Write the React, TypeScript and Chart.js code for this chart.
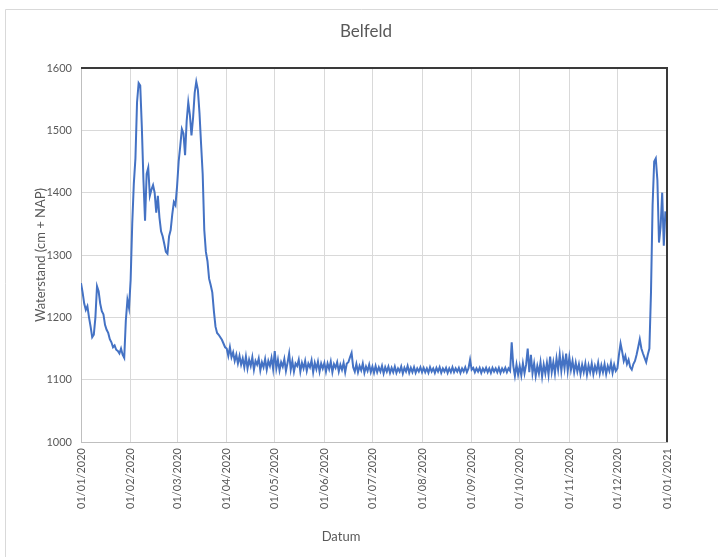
import React, { useEffect, useRef } from "react";
import { Chart, registerables } from "chart.js";

Chart.register(...registerables);

// Daily water level (cm + NAP), Belfeld 2020, one array per month
const JAN = [1255,1240,1222,1212,1218,1200,1185,1168,1172,1200,1250,1242,1222,1210,1205,1188,1180,1175,1165,1160,1152,1155,1148,1146,1142,1150,1140,1135,1195,1228,1215];
const FEB = [1260,1350,1415,1455,1545,1576,1572,1505,1420,1355,1430,1440,1395,1405,1412,1400,1368,1395,1360,1338,1330,1318,1305,1302,1330,1340,1365,1385,1380];
const MAR = [1410,1450,1475,1502,1495,1460,1515,1545,1525,1492,1520,1560,1578,1565,1528,1478,1430,1340,1305,1290,1262,1252,1240,1210,1185,1175,1172,1168,1164,1158,1152];
const APR = [1150,1138,1152,1136,1144,1130,1140,1126,1138,1124,1134,1120,1137,1118,1132,1122,1136,1116,1130,1124,1134,1115,1128,1120,1133,1116,1130,1122,1135,1117];
const MAY = [1146,1118,1132,1115,1128,1121,1133,1114,1127,1142,1116,1130,1113,1126,1122,1132,1113,1127,1118,1130,1114,1126,1120,1131,1112,1127,1117,1129,1113,1126,1118];
const JUN = [1127,1113,1126,1117,1129,1112,1125,1119,1128,1113,1124,1116,1127,1112,1126,1128,1136,1143,1120,1113,1125,1112,1122,1115,1126,1111,1121,1114,1124,1112];
const JUL = [1121,1111,1122,1112,1120,1113,1122,1110,1120,1113,1121,1111,1119,1112,1121,1111,1118,1113,1121,1110,1119,1113,1122,1111,1119,1112,1120,1111,1118,1113,1120];
const AUG = [1112,1119,1112,1118,1111,1120,1113,1118,1111,1119,1113,1120,1111,1118,1113,1119,1111,1118,1112,1120,1112,1118,1113,1119,1111,1118,1113,1120,1112,1118,1132];
const SEP = [1116,1119,1112,1118,1113,1119,1111,1118,1113,1119,1112,1118,1111,1119,1113,1118,1112,1119,1111,1118,1113,1119,1112,1118,1114,1160,1122,1106,1124,1108];
const OCT = [1122,1107,1126,1110,1124,1150,1112,1140,1110,1126,1106,1122,1110,1128,1105,1124,1110,1127,1108,1137,1112,1128,1110,1134,1116,1140,1114,1136,1118,1142,1114];
const NOV = [1136,1116,1130,1112,1127,1113,1125,1109,1124,1112,1126,1108,1123,1112,1126,1109,1122,1113,1127,1110,1123,1112,1125,1109,1122,1114,1127,1111,1124,1114];
const DEC = [1118,1140,1158,1145,1130,1138,1125,1132,1120,1116,1125,1130,1140,1152,1165,1150,1142,1135,1128,1140,1150,1240,1380,1450,1455,1420,1320,1345,1400,1315,1370];

const MONTHS = [JAN, FEB, MAR, APR, MAY, JUN, JUL, AUG, SEP, OCT, NOV, DEC];

const TICK_LABELS = [
  "01/01/2020", "01/02/2020", "01/03/2020", "01/04/2020", "01/05/2020", "01/06/2020",
  "01/07/2020", "01/08/2020", "01/09/2020", "01/10/2020", "01/11/2020", "01/12/2020", "01/01/2021",
];

const Y_TICKS = [1000, 1100, 1200, 1300, 1400, 1500, 1600];

const TITLE = "Belfeld";
const X_TITLE = "Datum";
const Y_TITLE = "Waterstand (cm + NAP)";

const FONT = "Lato, 'Open Sans', sans-serif";
const TEXT = "#595959";

export default function App() {
  const ref = useRef<HTMLCanvasElement | null>(null);

  useEffect(() => {
    if (!ref.current) return;
    const values: number[] = ([] as number[]).concat(...MONTHS);
    const points = values.map((v, i) => ({ x: i, y: v }));
    const monthStarts: number[] = [0];
    MONTHS.forEach((m) => monthStarts.push(monthStarts[monthStarts.length - 1] + m.length));

    const framePlugin = {
      id: "frames",
      beforeDraw(chart: any) {
        const ctx = chart.ctx;
        ctx.save();
        ctx.fillStyle = "#ffffff";
        ctx.fillRect(0, 0, chart.width, chart.height);
        ctx.strokeStyle = "#d9d9d9";
        ctx.lineWidth = 1;
        ctx.beginPath();
        ctx.moveTo(5.5, chart.height);
        ctx.lineTo(5.5, 9.5);
        ctx.lineTo(chart.width, 9.5);
        ctx.stroke();
        ctx.restore();
      },
      afterDraw(chart: any) {
        const { left, right, top, bottom } = chart.chartArea;
        const ctx = chart.ctx;
        ctx.save();
        ctx.strokeStyle = "#3a3a3a";
        ctx.lineWidth = 2;
        ctx.beginPath();
        ctx.moveTo(left, top);
        ctx.lineTo(right, top);
        ctx.lineTo(right, bottom);
        ctx.stroke();
        // x-axis title, placed as in the original (left of plot centre)
        ctx.fillStyle = TEXT;
        ctx.font = `13px ${FONT}`;
        ctx.textAlign = "center";
        ctx.textBaseline = "middle";
        ctx.fillText(X_TITLE, 341, 537);
        ctx.restore();
      },
    };

    const chart = new Chart(ref.current, {
      type: "line",
      data: {
        datasets: [
          {
            data: points,
            borderColor: "#4472C4",
            borderWidth: 2,
            pointRadius: 0,
            tension: 0,
            fill: false,
          },
        ],
      },
      options: {
        responsive: false,
        animation: false,
        layout: { padding: { left: 14, right: 0, top: 0, bottom: 0 } },
        plugins: {
          legend: { display: false },
          tooltip: { enabled: false },
          title: {
            display: true,
            text: TITLE,
            color: TEXT,
            font: { family: FONT, size: 17, weight: "normal" },
            padding: { top: 21.8, bottom: 25.8 },
          },
        },
        scales: {
          x: {
            type: "linear",
            min: 0,
            max: monthStarts[monthStarts.length - 1],
            afterBuildTicks: (scale: any) => {
              scale.ticks = monthStarts.map((v) => ({ value: v }));
            },
            afterFit: (scale: any) => {
              scale.height = 115;
            },
            grid: { color: "#d9d9d9", lineWidth: 1, drawTicks: false },
            border: { color: "#bfbfbf", width: 1 },
            ticks: {
              autoSkip: false,
              minRotation: 90,
              maxRotation: 90,
              padding: 6,
              color: TEXT,
              font: { family: FONT, size: 11 },
              callback: (_v: any, i: number) => TICK_LABELS[i],
            },
            title: { display: false },
          },
          y: {
            type: "linear",
            min: Y_TICKS[0],
            max: Y_TICKS[Y_TICKS.length - 1],
            afterBuildTicks: (scale: any) => {
              scale.ticks = Y_TICKS.map((v) => ({ value: v }));
            },
            afterFit: (scale: any) => {
              scale.width = 67;
            },
            grid: { color: "#d9d9d9", lineWidth: 1, drawTicks: false },
            border: { color: "#bfbfbf", width: 1 },
            ticks: {
              padding: 9,
              color: TEXT,
              font: { family: FONT, size: 11 },
              callback: (v: any) => String(v),
            },
            title: {
              display: true,
              text: Y_TITLE,
              color: TEXT,
              font: { family: FONT, size: 13 },
              padding: { top: 19, bottom: 0 },
            },
          },
          y2: {
            type: "linear",
            position: "right",
            display: true,
            afterFit: (scale: any) => {
              scale.width = 51;
            },
            grid: { display: false, drawTicks: false },
            border: { display: false },
            ticks: { display: false },
          },
        },
      },
      plugins: [framePlugin],
    } as any);

    return () => chart.destroy();
  }, []);

  return (
    <canvas
      ref={ref}
      width={718}
      height={557}
      style={{ position: "absolute", left: 0, top: 0, display: "block" }}
    />
  );
}
